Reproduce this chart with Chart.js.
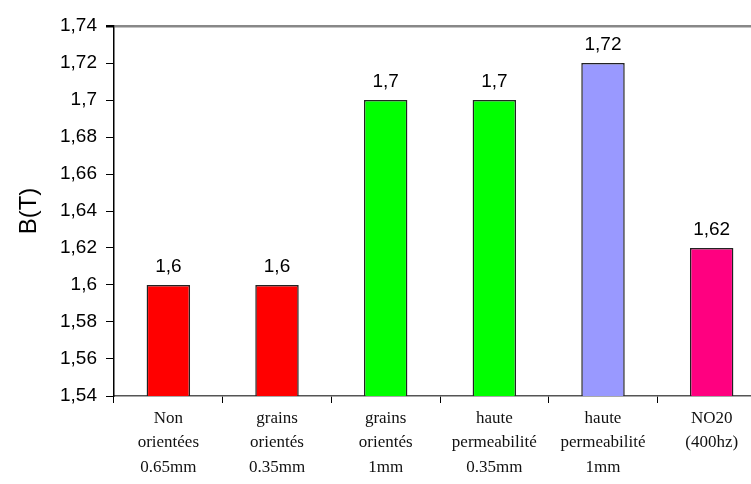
<!DOCTYPE html>
<html>
<head>
<meta charset="utf-8">
<script src="https://cdn.jsdelivr.net/npm/chart.js@4.4.1/dist/chart.umd.min.js"></script>
<style>
  html, body { margin: 0; padding: 0; background: #fff; overflow: hidden; }
  #wrap { width: 768px; height: 484px; }
</style>
</head>
<body>
<div id="wrap"><canvas id="barres"></canvas></div>
<script>
// categories (3 lines each) and induction values
var categories = [
  ['Non', 'orientées', '0.65mm'],
  ['grains', 'orientés', '0.35mm'],
  ['grains', 'orientés', '1mm'],
  ['haute', 'permeabilité', '0.35mm'],
  ['haute', 'permeabilité', '1mm'],
  ['NO20', '(400hz)', '']
];
var valeurs = [1.6, 1.6, 1.7, 1.7, 1.72, 1.62];
var couleurs = ['#ff0000', '#ff0000', '#00ff00', '#00ff00', '#9999ff', '#ff0080'];
var yMin = 1.54, yMax = 1.74, yPas = 0.02;

function virgule(v) {
  return String(parseFloat(v.toFixed(2))).replace('.', ',');
}

// values written above each bar
var etiquettes = {
  id: 'etiquettes',
  afterDatasetsDraw: function(chart) {
    var ctx = chart.ctx;
    var meta = chart.getDatasetMeta(0);
    ctx.save();
    ctx.font = '19px "Liberation Sans", Arial, sans-serif';
    ctx.fillStyle = '#000';
    ctx.textAlign = 'center';
    ctx.textBaseline = 'alphabetic';
    meta.data.forEach(function(bar, i) {
      ctx.fillText(virgule(valeurs[i]), bar.x, bar.y - 13);
    });
    ctx.restore();
  }
};

var ctx = document.getElementById('barres');
var graphe = new Chart(ctx, {
  type: 'bar',
  data: {
    labels: categories,
    datasets: [{
      data: valeurs,
      backgroundColor: couleurs,
      borderColor: '#222',
      borderWidth: 1.5,
      barPercentage: 0.4,
      categoryPercentage: 1
    }]
  },
  options: {
    responsive: true,
    maintainAspectRatio: false,
    animation: false,
    layout: { padding: { top: 26, right: 2, bottom: 0, left: 0 } },
    plugins: { legend: { display: false }, tooltip: { enabled: false } },
    scales: {
      x: {
        afterFit: function(s) { s.height = 88; },
        grid: {
          offset: true,
          drawOnChartArea: false,
          tickLength: 7,
          tickColor: '#000'
        },
        border: { color: '#555', width: 1.5 },
        ticks: {
          color: '#111',
          padding: 3,
          maxRotation: 0,
          autoSkip: false,
          font: { family: '"Liberation Serif", "Times New Roman", serif', size: 17, lineHeight: 1.44 }
        }
      },
      y: {
        min: yMin,
        max: yMax,
        afterFit: function(s) { s.width = 114; },
        grid: {
          drawOnChartArea: true,
          tickLength: 8,
          tickColor: '#000',
          color: function(c) { return c.index === 10 ? '#888' : 'rgba(0,0,0,0)'; },
          lineWidth: function(c) { return c.index === 10 ? 2.5 : 1; }
        },
        border: { color: '#000', width: 1.5 },
        ticks: {
          stepSize: yPas,
          color: '#000',
          padding: 9,
          font: { family: '"Liberation Sans", Arial, sans-serif', size: 19 },
          callback: function(v) { return virgule(v); }
        },
        title: {
          display: true,
          text: 'B(T)',
          color: '#000',
          font: { family: '"Liberation Sans", Arial, sans-serif', size: 24 },
          padding: { top: 15, bottom: 0 }
        }
      }
    }
  },
  plugins: [etiquettes]
});
</script>
</body>
</html>
